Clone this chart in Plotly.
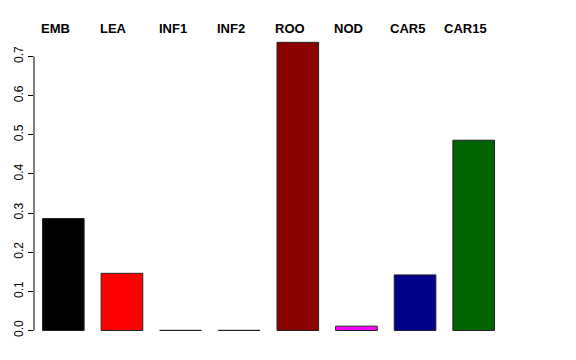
import plotly.graph_objects as go

categories = ["EMB", "LEA", "INF1", "INF2", "ROO", "NOD", "CAR5", "CAR15"]
values = [0.286, 0.146, 0.0005, 0.0005, 0.736, 0.011, 0.142, 0.486]
colors = ["#000000", "#FF0000", "#00CD00", "#0000FF", "#8B0000", "#FF00FF", "#00008B", "#006400"]
yticks = [0.0, 0.1, 0.2, 0.3, 0.4, 0.5, 0.6, 0.7]

fig = go.Figure()
fig.add_trace(go.Bar(
    x=categories, y=values,
    marker=dict(color=colors, line=dict(color="#222222", width=1)),
    width=0.71,
))

for c in categories:
    fig.add_annotation(x=c, y=1.008, xref="x", yref="paper", text="<b>%s</b>" % c,
                       showarrow=False, xanchor="center", yanchor="middle", xshift=-8,
                       font=dict(family="Liberation Sans, Arial", size=13, color="black"))

# R-style axis line spanning only the tick range
fig.add_shape(type="line", xref="paper", yref="y", x0=0, x1=0, y0=yticks[0], y1=yticks[-1],
              line=dict(color="black", width=1))

fig.update_layout(
    width=576, height=360,
    margin=dict(l=28, r=73, t=31, b=18),
    paper_bgcolor="white", plot_bgcolor="white",
    showlegend=False,
    font=dict(family="Liberation Sans, Arial", size=12, color="black"),
    xaxis=dict(range=[-0.5, 7.5], showticklabels=False, ticks="", showline=False,
               showgrid=False, zeroline=False),
    yaxis=dict(range=[-0.0294, 0.765], tickvals=yticks, ticktext=[f"{v:.1f}" for v in yticks],
               ticks="outside", ticklen=5, tickcolor="black", tickangle=-90,
               showgrid=False, zeroline=False, showline=False,
               tickfont=dict(size=12)),
)

fig.write_html("out.html")
